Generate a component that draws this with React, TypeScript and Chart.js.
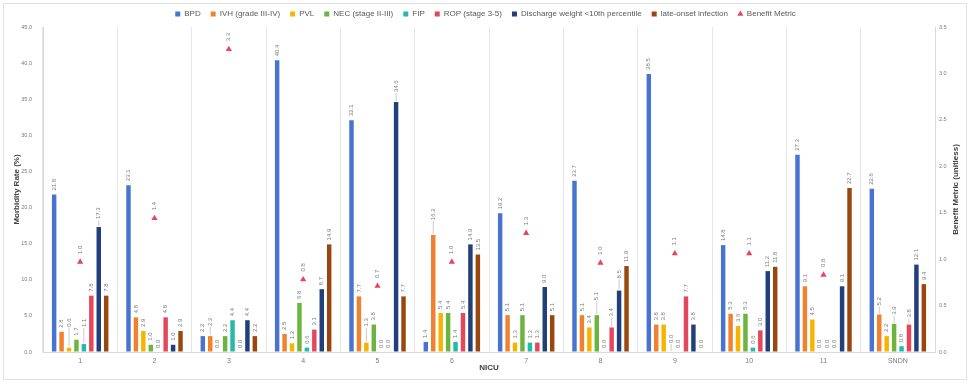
import React, { useEffect, useRef } from "react";
import { Chart, registerables } from "chart.js";

Chart.register(...registerables);

const categories = ["1", "2", "3", "4", "5", "6", "7", "8", "9", "10", "11", "SNDN"];

const seriesNames = [
  "BPD",
  "IVH (grade III-IV)",
  "PVL",
  "NEC (stage II-III)",
  "FIP",
  "ROP (stage 3-5)",
  "Discharge weight <10th percentile",
  "late-onset infection",
];

const bpd = [21.8, 23.1, 2.2, 40.4, 32.1, 1.4, 19.2, 23.7, 38.5, 14.8, 27.3, 22.6];
const ivh = [2.8, 4.8, 2.2, 2.5, 7.7, 16.2, 5.1, 5.1, 3.8, 5.3, 9.1, 5.2];
const pvl = [0.6, 2.9, 0.0, 1.2, 1.3, 5.4, 1.3, 3.4, 3.8, 3.6, 4.5, 2.2];
const nec = [1.7, 1.0, 2.2, 6.8, 3.8, 5.4, 5.1, 5.1, 0.0, 5.3, 0.0, 3.9];
const fip = [1.1, 0.0, 4.4, 0.6, 0.0, 1.4, 1.3, 0.0, 0.0, 0.6, 0.0, 0.8];
const rop = [7.8, 4.8, 0.0, 3.1, 0.0, 5.4, 1.3, 3.4, 7.7, 3.0, 0.0, 3.8];
const dischargeWeight = [17.3, 1.0, 4.4, 8.7, 34.6, 14.9, 9.0, 8.5, 3.8, 11.2, 9.1, 12.1];
const lateOnset = [7.8, 2.9, 2.2, 14.9, 7.7, 13.5, 5.1, 11.9, 0.0, 11.8, 22.7, 9.4];
const benefitMetric: (number | null)[] = [0.97, 1.44, 3.26, 0.78, 0.71, 0.97, 1.28, 0.96, 1.06, 1.06, 0.83, null];

const leftTicks = [0, 5, 10, 15, 20, 25, 30, 35, 40, 45];
const rightTicks = [0, 0.5, 1, 1.5, 2, 2.5, 3, 3.5];

const barSeries = [bpd, ivh, pvl, nec, fip, rop, dischargeWeight, lateOnset];
const barColors = ["#4874CF", "#F0822F", "#F6B400", "#6DB33F", "#22BBA9", "#E4465B", "#213F7B", "#99470E"];
const benefitColor = "#E4465B";

// labels that are pushed upward with a leader line: [series, category, lift px]
const leaderLabels: [number, number, number][] = [
  [2, 0, 17], [4, 0, 13], [6, 0, 4], [1, 2, 6], [2, 4, 12], [6, 4, 6],
  [1, 5, 11], [3, 7, 11], [5, 7, 7], [6, 7, 8], [3, 8, 5], [1, 11, 5], [3, 11, 5], [5, 11, 3],
];

const FONT = "'Liberation Sans', Arial, sans-serif";

export default function App() {
  const ref = useRef<HTMLCanvasElement | null>(null);

  useEffect(() => {
    if (!ref.current) return;

    const labelPlugin = {
      id: "valueLabels",
      beforeLayout(chart: any) {
        const lg = chart.legend;
        if (lg && !lg._patched) {
          const orig = lg.fit.bind(lg);
          lg.fit = function () {
            orig();
            this.height = 27;
          };
          lg._patched = true;
        }
      },
      afterDatasetsDraw(chart: any) {
        const ctx = chart.ctx;
        ctx.save();
        ctx.font = `6px ${FONT}`;
        ctx.textAlign = "left";
        ctx.textBaseline = "middle";
        barSeries.forEach((vals, i) => {
          const meta = chart.getDatasetMeta(i);
          meta.data.forEach((bar: any, j: number) => {
            const v = vals[j];
            const ll = leaderLabels.find((l) => l[0] === i && l[1] === j);
            const lift = ll ? ll[2] : 0;
            if (lift > 0) {
              ctx.save();
              ctx.strokeStyle = "#a8a8a8";
              ctx.lineWidth = 0.6;
              ctx.beginPath();
              ctx.moveTo(bar.x, bar.y - 1);
              ctx.lineTo(bar.x, bar.y - 3 - lift);
              ctx.stroke();
              ctx.restore();
            }
            ctx.save();
            ctx.fillStyle = "#7a7a7a";
            ctx.translate(bar.x, bar.y - 4 - lift);
            ctx.rotate(-Math.PI / 2);
            ctx.fillText(v.toFixed(1), 0, 0);
            ctx.restore();
          });
        });
        const bm = chart.getDatasetMeta(8);
        bm.data.forEach((pt: any, j: number) => {
          const v = benefitMetric[j];
          if (v === null || v === undefined) return;
          ctx.save();
          ctx.fillStyle = "#7a7a7a";
          ctx.translate(pt.x, pt.y - 8);
          ctx.rotate(-Math.PI / 2);
          ctx.fillText(v.toFixed(1), 0, 0);
          ctx.restore();
        });
        // right axis title, reading bottom-to-top
        const area = chart.chartArea;
        ctx.save();
        ctx.font = `bold 8px ${FONT}`;
        ctx.fillStyle = "#404040";
        ctx.textAlign = "center";
        ctx.textBaseline = "middle";
        ctx.translate(956, (area.top + area.bottom) / 2);
        ctx.rotate(-Math.PI / 2);
        ctx.fillText("Benefit Metric (unitless)", 0, 0);
        ctx.restore();
        ctx.restore();
      },
    };

    const datasets: any[] = barSeries.map((vals, i) => ({
      type: "bar",
      label: seriesNames[i],
      data: vals,
      backgroundColor: barColors[i],
      borderWidth: 0,
      yAxisID: "y",
      categoryPercentage: 0.8,
      barPercentage: 0.6,
    }));
    datasets.push({
      type: "line",
      label: "Benefit Metric",
      data: benefitMetric,
      showLine: false,
      pointStyle: "triangle",
      pointRadius: 3.6,
      pointHoverRadius: 3.6,
      backgroundColor: benefitColor,
      borderColor: benefitColor,
      borderWidth: 0,
      yAxisID: "y1",
    });

    const chart = new Chart(ref.current, {
      type: "bar",
      data: { labels: categories, datasets },
      plugins: [labelPlugin],
      options: {
        responsive: false,
        animation: false,
        devicePixelRatio: 1,
        layout: { padding: 0 },
        plugins: {
          tooltip: { enabled: false },
          legend: {
            position: "top",
            labels: {
              font: { family: FONT, size: 8 },
              color: "#595959",
              usePointStyle: true,
              boxWidth: 5,
              boxHeight: 5,
              padding: 10,
              generateLabels: (c: any) => {
                const items = (Chart.defaults.plugins.legend.labels as any).generateLabels(c);
                items.sort((a: any, b: any) => a.datasetIndex - b.datasetIndex);
                items.forEach((it: any) => {
                  it.pointStyle = it.datasetIndex === 8 ? "triangle" : "rect";
                  it.lineWidth = 0;
                });
                return items;
              },
            },
          },
        },
        scales: {
          x: {
            grid: { offset: true, color: "#e6e6e6", drawTicks: false },
            border: { color: "#d9d9d9" },
            ticks: { color: "#7a7a7a", font: { family: FONT, size: 7 }, padding: 5 },
            title: {
              display: true,
              text: "NICU",
              color: "#404040",
              font: { family: FONT, size: 8, weight: "bold" },
              padding: { top: 0, bottom: 12 },
            },
            afterFit: (s: any) => {
              s.height = 33;
            },
          },
          y: {
            position: "left",
            min: 0,
            max: 45,
            afterBuildTicks: (s: any) => {
              s.ticks = leftTicks.map((v) => ({ value: v }));
            },
            ticks: {
              color: "#7a7a7a",
              font: { family: FONT, size: 5.5 },
              padding: 11,
              callback: (v: any) => Number(v).toFixed(1),
            },
            grid: { drawOnChartArea: false, drawTicks: false },
            border: { color: "#d9d9d9" },
            title: {
              display: true,
              text: "Morbidity Rate (%)",
              color: "#404040",
              font: { family: FONT, size: 8, weight: "bold" },
              padding: { top: 12, bottom: 0 },
            },
            afterFit: (s: any) => {
              s.width = 43;
            },
          },
          y1: {
            position: "right",
            min: 0,
            max: 3.5,
            afterBuildTicks: (s: any) => {
              s.ticks = rightTicks.map((v) => ({ value: v }));
            },
            ticks: {
              color: "#7a7a7a",
              font: { family: FONT, size: 5.5 },
              padding: 4,
              callback: (v: any) => Number(v).toFixed(1),
            },
            grid: { drawOnChartArea: false, drawTicks: false },
            border: { color: "#d9d9d9" },
            afterFit: (s: any) => {
              s.width = 36;
            },
          },
        },
      } as any,
    });

    return () => chart.destroy();
  }, []);

  return (
    <div style={{ position: "absolute", left: 0, top: 0, width: 971, height: 385, background: "#fff" }}>
      <div
        style={{
          position: "absolute",
          left: 3,
          top: 3,
          width: 964,
          height: 377,
          border: "1px solid #e2e2e2",
          boxSizing: "border-box",
        }}
      />
      <canvas ref={ref} width={971} height={385} style={{ position: "absolute", left: 0, top: 0 }} />
    </div>
  );
}
